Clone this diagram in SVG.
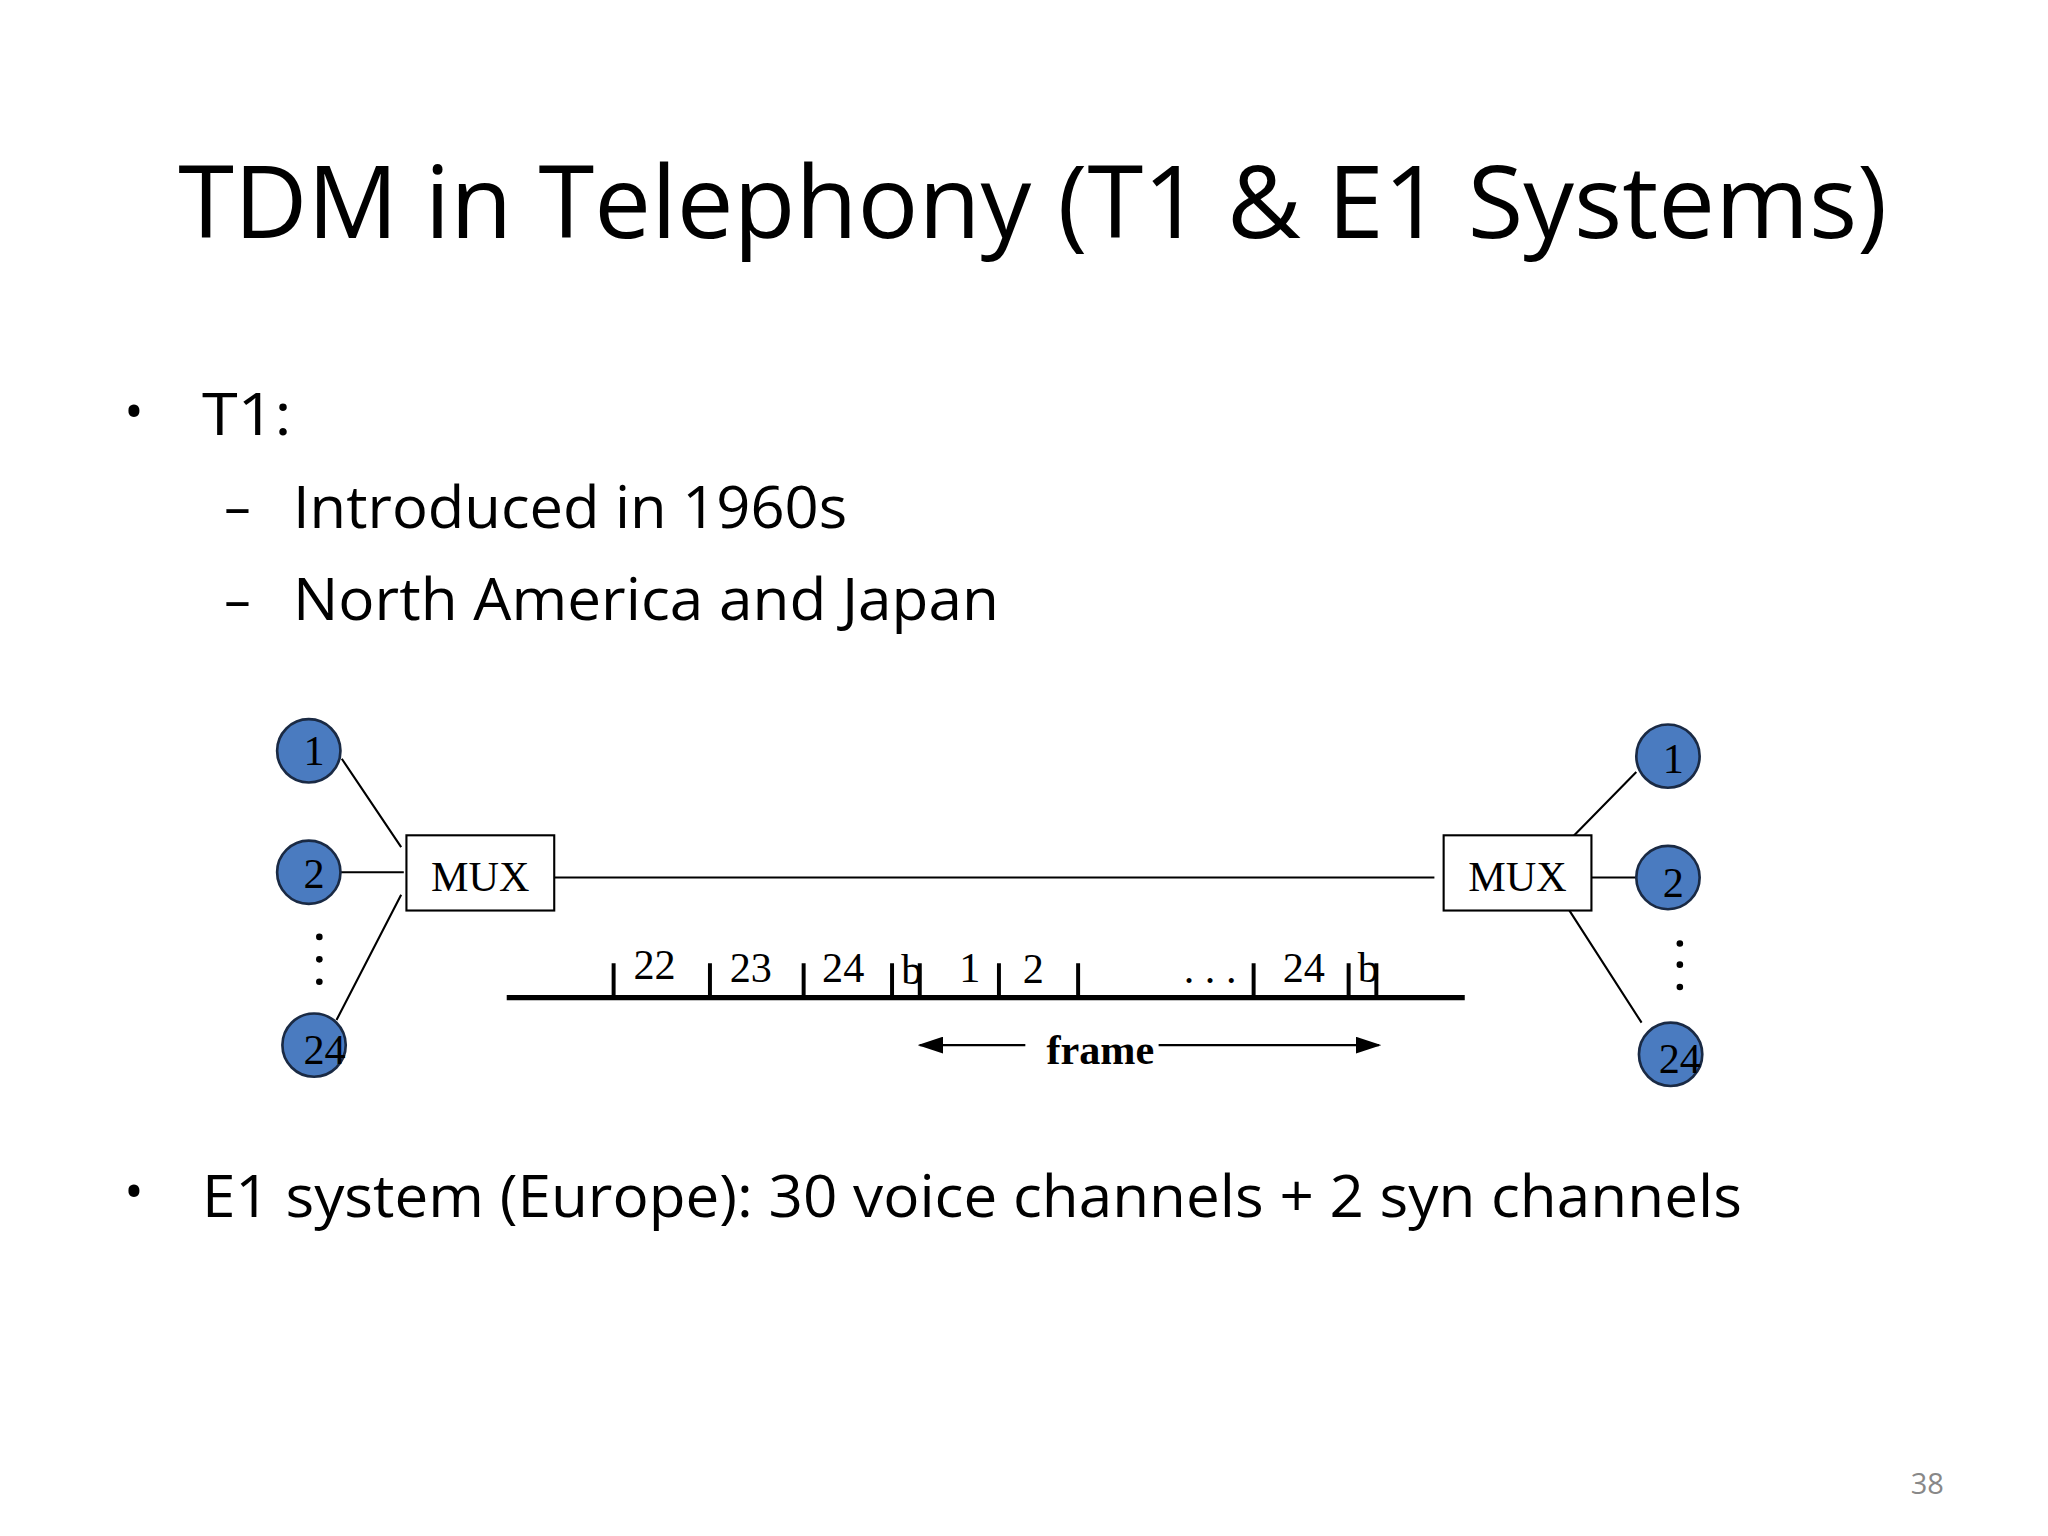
<svg xmlns="http://www.w3.org/2000/svg" width="2048" height="1536" viewBox="0 0 2048 1536">
<style>
.t{font-family:"Open Sans","Noto Sans",sans-serif;fill:#000}
.s{font-family:"Liberation Serif",serif;font-size:32px;fill:#000}
.c{fill:#4a7bc0;stroke:#1a2a44;stroke-width:2}
.l{stroke:#000;stroke-width:1.6;fill:none}
.k{stroke:#000;stroke-width:3}
</style>
<defs><marker id="a" markerWidth="12" markerHeight="8" refX="11" refY="4" orient="auto"><path d="M0,0L12,4L0,8z" fill="#000"/></marker></defs>
<rect width="2048" height="1536" fill="#fff"/>
<g transform="scale(1.3196)">
<text class="t" x="135" y="180" font-size="76" textLength="1295" lengthAdjust="spacingAndGlyphs">TDM in Telephony (T1 &amp; E1 Systems)</text>
<text class="t" x="94" y="326" font-size="40">•</text>
<text class="t" x="153" y="330" font-size="44" textLength="68" lengthAdjust="spacingAndGlyphs">T1:</text>
<text class="t" x="170" y="398" font-size="40">–</text>
<text class="t" x="222" y="400" font-size="44" textLength="420" lengthAdjust="spacingAndGlyphs">Introduced in 1960s</text>
<text class="t" x="170" y="468" font-size="40">–</text>
<text class="t" x="222" y="470" font-size="44" textLength="535" lengthAdjust="spacingAndGlyphs">North America and Japan</text>
<text class="t" x="94" y="917" font-size="40">•</text>
<text class="t" x="153" y="922" font-size="44" textLength="1167" lengthAdjust="spacingAndGlyphs">E1 system (Europe): 30 voice channels + 2 syn channels</text>
<text class="t" x="1448" y="1132" font-size="22" fill="#888" style="fill:#888">38</text>
<g id="connectors">
<path class="l" d="M259,575L304,642M258,661H306M255,773L304,678M420,665H1087M1240,585L1190,636M1206,665H1240M1188,688L1244,775"/>
<path class="k" d="M465,730V756M538,730V756M609,730V756M676,730V756M697,730V756M757,730V756M817,730V756M950,730V756M1022,730V756M1043,730V756"/>
<path d="M384,756H1110" stroke="#000" stroke-width="4"/>
<path class="l" d="M777,792H697" marker-end="url(#a)"/>
<path class="l" d="M878,792H1045" marker-end="url(#a)"/>
</g>
<g id="left-dots" fill="#000"><circle cx="242" cy="710" r="2.5"/><circle cx="242" cy="727" r="2.5"/><circle cx="242" cy="744" r="2.5"/></g>
<g id="right-dots" fill="#000"><circle cx="1273" cy="715" r="2.5"/><circle cx="1273" cy="731" r="2.5"/><circle cx="1273" cy="748" r="2.5"/></g>
<g id="L1"><circle class="c" cx="234" cy="569" r="24"/><text class="s" x="238" y="580" text-anchor="middle">1</text></g>
<g id="L2"><circle class="c" cx="234" cy="661" r="24"/><text class="s" x="238" y="673" text-anchor="middle">2</text></g>
<g id="L24"><circle class="c" cx="238" cy="792" r="24"/><text class="s" x="246" y="806" text-anchor="middle">24</text></g>
<g id="R1"><circle class="c" cx="1264" cy="573" r="24"/><text class="s" x="1268" y="586" text-anchor="middle">1</text></g>
<g id="R2"><circle class="c" cx="1264" cy="665" r="24"/><text class="s" x="1268" y="680" text-anchor="middle">2</text></g>
<g id="R24"><circle class="c" cx="1266" cy="799" r="24"/><text class="s" x="1273" y="813" text-anchor="middle">24</text></g>
<g id="MUX1"><rect x="308" y="633" width="112" height="57" fill="#fff" stroke="#000" stroke-width="1.6"/><text class="s" x="364" y="675" text-anchor="middle">MUX</text></g>
<g id="MUX2"><rect x="1094" y="633" width="112" height="57" fill="#fff" stroke="#000" stroke-width="1.6"/><text class="s" x="1150" y="675" text-anchor="middle">MUX</text></g>
<g id="labels">
<text class="s" x="480" y="742">22</text><text class="s" x="553" y="744">23</text><text class="s" x="623" y="744">24</text>
<text class="s" x="683" y="746">b</text><text class="s" x="727" y="744">1</text><text class="s" x="775" y="745">2</text>
<text class="s" x="897" y="745">. . .</text><text class="s" x="972" y="744">24</text><text class="s" x="1029" y="744">b</text>
<text class="s" x="793" y="806" font-weight="bold">frame</text>
</g>
</g>
</svg>
